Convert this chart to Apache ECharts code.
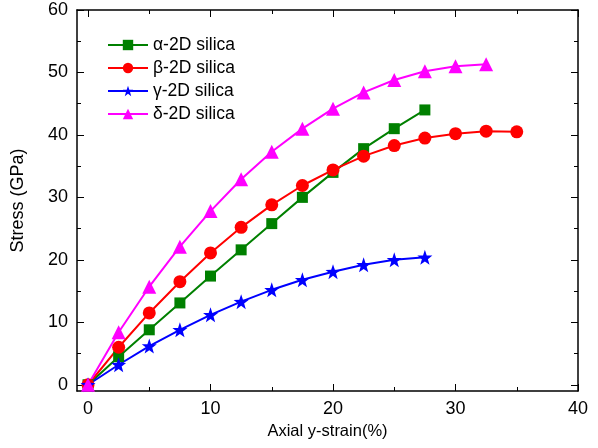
<!DOCTYPE html>
<html>
<head>
<meta charset="utf-8">
<script src="https://cdn.jsdelivr.net/npm/echarts@6/dist/echarts.min.js"></script>
<style>
  html, body { margin: 0; padding: 0; background: #fff; }
  #chart { width: 598px; height: 448px; }
</style>
</head>
<body>
<div id="chart"></div>
<script>
// strain (%) sampled every 2.5
const strain = [0, 2.5, 5, 7.5, 10, 12.5, 15, 17.5, 20, 22.5, 25, 27.5, 30, 32.5, 35];

// stress (GPa) per phase
const alpha = [0, 4.5, 8.8, 13.1, 17.4, 21.6, 25.8, 30.0, 34.0, 37.8, 41.0, 44.0];
const beta  = [0, 6.0, 11.5, 16.5, 21.1, 25.2, 28.8, 31.9, 34.4, 36.6, 38.3, 39.5, 40.2, 40.6, 40.5];
const gamma = [0, 3.2, 6.2, 8.8, 11.2, 13.3, 15.2, 16.8, 18.1, 19.2, 20.0, 20.4];
const delta = [0, 8.4, 15.7, 22.1, 27.8, 32.9, 37.3, 41.0, 44.2, 46.8, 48.8, 50.2, 51.0, 51.3];

const names = ['α-2D silica', 'β-2D silica', 'γ-2D silica', 'δ-2D silica'];

// tick labels
const xTicks = [0, 10, 20, 30, 40];
const xMinor = [5, 15, 25, 35];
const yTicks = [0, 10, 20, 30, 40, 50, 60];
const yMinor = [5, 15, 25, 35, 45, 55];

function pairs(vals) {
  return vals.map((v, i) => [strain[i], v]);
}

const font = 'Liberation Sans, Arial, sans-serif';
const XMIN = -0.9, XMAX = 40, YMIN = -1, YMAX = 60;

let el = document.getElementById('chart');
let inst = echarts.init(el, null, { renderer: 'canvas' });

// a value axis that only draws inward ticks (and optionally its line / labels)
function axis(pos, min, max, ticks, len, withLine, labels) {
  return {
    type: 'value', min: min, max: max, position: pos,
    axisLine: { show: withLine, onZero: false, lineStyle: { color: '#000', width: 1.5 } },
    axisTick: { show: true, inside: true, length: len, lineStyle: { color: '#000', width: 1 }, customValues: ticks },
    splitLine: { show: false },
    axisLabel: labels
      ? { show: true, color: '#000', fontSize: 18, fontFamily: font, margin: 9, customValues: ticks }
      : { show: false }
  };
}

function series(name, vals, color, symbol, size) {
  return {
    name: name,
    type: 'line',
    data: pairs(vals),
    symbol: symbol,
    symbolSize: size,
    color: color,
    lineStyle: { color: color, width: 2 },
    itemStyle: { color: color },
    emphasis: { disabled: true },
    animation: false
  };
}

const star = 'path://M0,-10 L2.35,-3.24 L9.51,-3.09 L3.8,1.24 L5.88,8.09 L0,4 L-5.88,8.09 L-3.8,1.24 L-9.51,-3.09 L-2.35,-3.24 Z';

let xBottom = axis('bottom', XMIN, XMAX, xTicks, 7, true, true);
xBottom.name = 'Axial y-strain(%)';
xBottom.nameLocation = 'middle';
xBottom.nameGap = 31;
xBottom.nameTextStyle = { color: '#000', fontSize: 16.5, fontFamily: font };

let yLeft = axis('left', YMIN, YMAX, yTicks, 7, true, true);
yLeft.name = 'Stress (GPa)';
yLeft.nameLocation = 'middle';
yLeft.nameGap = 50;
yLeft.nameTextStyle = { color: '#000', fontSize: 18, fontFamily: font };

let option = {
  backgroundColor: '#fff',
  animation: false,
  grid: { left: 77, right: 20, top: 10, bottom: 57 },
  legend: {
    orient: 'vertical',
    left: 102,
    top: 31,
    itemWidth: 40,
    itemHeight: 13,
    itemGap: 5,
    textStyle: { color: '#000', fontSize: 17.5, fontFamily: font },
    data: names
  },
  xAxis: [
    xBottom,
    axis('top', XMIN, XMAX, xTicks, 7, true, false),
    axis('bottom', XMIN, XMAX, xMinor, 4, false, false),
    axis('top', XMIN, XMAX, xMinor, 4, false, false)
  ],
  yAxis: [
    yLeft,
    axis('right', YMIN, YMAX, yTicks, 7, true, false),
    axis('left', YMIN, YMAX, yMinor, 4, false, false),
    axis('right', YMIN, YMAX, yMinor, 4, false, false)
  ],
  series: [
    series(names[0], alpha, '#008000', 'rect', 11),
    series(names[1], beta, '#ff0000', 'circle', 13),
    series(names[2], gamma, '#0000ff', star, 15),
    series(names[3], delta, '#ff00ff', 'triangle', 14)
  ]
};

inst.setOption(option);
</script>
</body>
</html>
